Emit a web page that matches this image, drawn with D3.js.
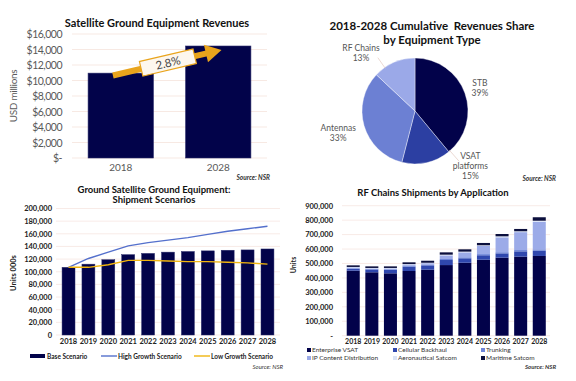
<!DOCTYPE html>
<html lang="en">
<head>
<meta charset="UTF-8">
<title>Satellite Ground Equipment</title>
<script src="https://d3js.org/d3.v7.min.js"></script>
<style>
  body { margin: 0; background: #fff; }
  text { font-family: Lato, "Open Sans", sans-serif; }
</style>
</head>
<body>
<div id="chart"></div>
<script>
// ---- data ----
var revYears = ["2018", "2028"];
var revValues = [10950, 14450];
var cagrLabel = "2.8%";

var pieLabels = ["STB", "VSAT platforms", "Antennas", "RF Chains"];
var pieShares = [39, 15, 33, 13];

var years = ["2018","2019","2020","2021","2022","2023","2024","2025","2026","2027","2028"];
var baseScenario = [107000,112000,119000,127000,129000,131000,132000,133000,134000,134500,136000];
var highScenario = [107000,121000,131000,141000,146000,150000,154000,159000,164000,168000,172000];
var lowScenario  = [107000,107000,111000,118000,118000,117000,116000,116000,115000,114000,112000];

var rfSeries = ["Enterprise VSAT","Cellular Backhaul","Trunking","IP Content Distribution","Aeronautical Satcom","Maritime Satcom"];
var enterpriseVsat = [450000,439000,432000,448000,457000,489000,505000,526000,540000,547000,552000];
var cellularBackhaul = [12000,19000,23000,30000,30000,35000,31000,31000,30000,37000,36000];
var trunking = [5000,4000,5000,6000,6000,7000,7000,8000,8000,9000,10000];
var ipContent = [6000,4000,6000,9000,9000,25000,34000,56000,103000,124000,190000];
var aeroSatcom = [3000,3000,3000,3000,3000,5000,5000,5000,7000,6000,8000];
var maritimeSatcom = [11000,11000,11000,12000,14000,16000,16000,16000,16000,16000,24000];

var navy = "#02034a";
var gridColor = "#f5e3dc";

var svg = d3.select("#chart").append("svg")
    .attr("width", 576)
    .attr("height", 381);

// ---- panel 1: revenues ----
(function() {
    var g = svg.append("g");
    var y = d3.scaleLinear().domain([0, 16000]).range([158, 34]);
    var x = d3.scaleBand().domain(revYears).range([72, 267]).paddingInner(0.33).paddingOuter(0.165);

    g.append("text").attr("x", 157).attr("y", 27).attr("text-anchor", "middle")
        .attr("font-size", 11).attr("font-weight", "bold").attr("fill", "#111")
        .text("Satellite Ground Equipment Revenues");

    var ticks = d3.range(0, 16001, 2000);
    g.selectAll(".grid").data(ticks).enter().append("line")
        .attr("x1", 72).attr("x2", 267)
        .attr("y1", function(d) { return y(d); }).attr("y2", function(d) { return y(d); })
        .attr("stroke", gridColor).attr("stroke-width", 0.8);

    g.selectAll(".tick").data(ticks).enter().append("text")
        .attr("x", 62).attr("y", function(d) { return y(d) + 4; })
        .attr("text-anchor", "end").attr("font-size", 10.5).attr("letter-spacing", -0.5)
        .attr("fill", "#595959")
        .text(function(d) { return d === 0 ? "$-" : "$" + d3.format(",")(d); });

    g.selectAll(".bar").data(revValues).enter().append("rect")
        .attr("x", function(d, i) { return x(revYears[i]); })
        .attr("y", function(d) { return y(d); })
        .attr("width", x.bandwidth())
        .attr("height", function(d) { return y(0) - y(d); })
        .attr("fill", navy).attr("stroke", "#2a2c6a").attr("stroke-width", 0.6);

    g.selectAll(".xl").data(revYears).enter().append("text")
        .attr("x", function(d) { return x(d) + x.bandwidth() / 2; })
        .attr("y", 171).attr("text-anchor", "middle")
        .attr("font-size", 10).attr("fill", "#595959").text(function(d) { return d; });

    g.append("text").attr("transform", "translate(17,96) rotate(-90)")
        .attr("text-anchor", "middle").attr("font-size", 10).attr("letter-spacing", -0.3)
        .attr("fill", "#595959").text("USD millions");

    g.append("text").attr("x", 270).attr("y", 180).attr("text-anchor", "end")
        .attr("font-size", 6.5).attr("font-style", "italic").attr("font-weight", "bold")
        .attr("fill", "#333").text("Source: NSR");

    // growth arrow
    var x0 = x("2018") + x.bandwidth() * 0.38, y0 = y(revValues[0] - 300);
    var x1 = x("2028") + x.bandwidth() * 0.55, y1 = y(revValues[1] - 500);
    var ang = Math.atan2(y1 - y0, x1 - x0);
    var len = Math.hypot(x1 - x0, y1 - y0);
    var arrow = g.append("g").attr("transform", "translate(" + x0 + "," + y0 + ") rotate(" + (ang * 180 / Math.PI) + ")");
    arrow.append("rect").attr("x", 0).attr("y", -3).attr("width", len - 12).attr("height", 6)
        .attr("fill", "#e9a41c");
    arrow.append("path").attr("d", "M" + (len - 16) + ",-9 L" + len + ",0 L" + (len - 16) + ",9 Z")
        .attr("fill", "#e9a41c");
    arrow.append("rect").attr("x", len * 0.26).attr("y", -7.5).attr("width", 55).attr("height", 15)
        .attr("fill", "#fdf7ee").attr("stroke", "#e9a41c").attr("stroke-width", 1.2);
    arrow.append("text").attr("x", len * 0.26 + 27.5).attr("y", 4.5).attr("text-anchor", "middle")
        .attr("font-size", 11.5).attr("fill", "#444").text(cagrLabel);
})();

// ---- panel 2: pie ----
(function() {
    var g = svg.append("g");
    g.append("text").attr("x", 432).attr("y", 30).attr("text-anchor", "middle")
        .attr("font-size", 11.5).attr("font-weight", "bold").attr("fill", "#111")
        .attr("xml:space", "preserve").text("2018-2028 Cumulative  Revenues Share");
    g.append("text").attr("x", 432).attr("y", 44).attr("text-anchor", "middle")
        .attr("font-size", 11.5).attr("font-weight", "bold").attr("fill", "#111")
        .text("by Equipment Type");

    var cx = 415, cy = 111, r = 53;
    var colors = ["#02024a", "#2c3fa2", "#6c80d3", "#9ba9e8"];
    var pie = d3.pie().sort(null).value(function(d) { return d; });
    var arcs = pie(pieShares);
    var arc = d3.arc().innerRadius(0).outerRadius(r);
    var pg = g.append("g").attr("transform", "translate(" + cx + "," + cy + ")");
    pg.selectAll("path").data(arcs).enter().append("path")
        .attr("d", arc)
        .attr("fill", function(d, i) { return colors[i]; })
        .attr("stroke", "#fff").attr("stroke-width", 0.4);

    // label placement: radius and angle shift per slice
    var labelR = [69, 78, 80, 79];
    var labelShift = [0.0, -0.57, 0.0, -0.345];
    var lines = [["STB", "39%"], ["VSAT", "platforms", "15%"], ["Antennas", "33%"], ["RF Chains", "13%"]];
    arcs.forEach(function(a, i) {
        var mid = (a.startAngle + a.endAngle) / 2 + labelShift[i];
        var lx = Math.sin(mid) * labelR[i], ly = -Math.cos(mid) * labelR[i];
        var t = pg.append("text").attr("text-anchor", "middle").attr("font-size", 8.5).attr("fill", "#555");
        var n = lines[i].length;
        lines[i].forEach(function(s, j) {
            t.append("tspan").attr("x", lx).attr("y", ly + (j - (n - 1) / 2) * 10 + 3).text(s);
        });
    });
    // leader lines for VSAT and RF Chains
    var leaders = [[1, -0.5, 14], [3, -0.2, 12]];
    leaders.forEach(function(l) {
        var a = arcs[l[0]];
        var mid = (a.startAngle + a.endAngle) / 2 + l[1];
        var p0 = [Math.sin(mid) * (r - 1), -Math.cos(mid) * (r - 1)];
        var p1 = [Math.sin(mid) * (r + l[2]), -Math.cos(mid) * (r + l[2])];
        pg.append("line").attr("x1", p0[0]).attr("y1", p0[1]).attr("x2", p1[0]).attr("y2", p1[1])
            .attr("stroke", "#e3c9c0").attr("stroke-width", 0.7);
    });

    g.append("text").attr("x", 556).attr("y", 181).attr("text-anchor", "end")
        .attr("font-size", 6.5).attr("font-style", "italic").attr("font-weight", "bold")
        .attr("fill", "#333").text("Source: NSR");
})();

// ---- panel 3: shipment scenarios ----
(function() {
    var g = svg.append("g");
    g.append("text").attr("x", 154).attr("y", 193).attr("text-anchor", "middle")
        .attr("font-size", 9.5).attr("font-weight", "bold").attr("fill", "#111")
        .text("Ground Satellite Ground Equipment:");
    g.append("text").attr("x", 154).attr("y", 203).attr("text-anchor", "middle")
        .attr("font-size", 9.5).attr("font-weight", "bold").attr("fill", "#111")
        .text("Shipment Scenarios");

    var y = d3.scaleLinear().domain([0, 200000]).range([335, 208.5]);
    var x = d3.scaleBand().domain(years).range([55.5, 280.5]).paddingInner(0.35).paddingOuter(0.33);
    var ticks = d3.range(0, 200001, 20000);

    g.selectAll(".grid").data(ticks).enter().append("line")
        .attr("x1", 56).attr("x2", 280)
        .attr("y1", function(d) { return y(d); }).attr("y2", function(d) { return y(d); })
        .attr("stroke", gridColor).attr("stroke-width", 0.7);
    g.selectAll(".tick").data(ticks).enter().append("text")
        .attr("x", 52).attr("y", function(d) { return y(d) + 2.8; })
        .attr("text-anchor", "end").attr("font-size", 7.5).attr("font-weight", "bold").attr("fill", "#222")
        .text(function(d) { return d3.format(",")(d); });

    g.selectAll(".bar").data(baseScenario).enter().append("rect")
        .attr("x", function(d, i) { return x(years[i]); })
        .attr("y", function(d) { return y(d); })
        .attr("width", x.bandwidth())
        .attr("height", function(d) { return y(0) - y(d); })
        .attr("fill", navy).attr("stroke", "#2a2c6a").attr("stroke-width", 0.5);

    var line = d3.line()
        .x(function(d, i) { return x(years[i]) + x.bandwidth() / 2; })
        .y(function(d) { return y(d); });
    g.append("path").attr("d", line(highScenario)).attr("fill", "none")
        .attr("stroke", "#5470cc").attr("stroke-width", 1.4);
    g.append("path").attr("d", line(lowScenario)).attr("fill", "none")
        .attr("stroke", "#f0b50f").attr("stroke-width", 1.4);

    g.selectAll(".xl").data(years).enter().append("text")
        .attr("x", function(d) { return x(d) + x.bandwidth() / 2; })
        .attr("y", 344).attr("text-anchor", "middle")
        .attr("font-size", 7.5).attr("font-weight", "bold").attr("fill", "#222").text(function(d) { return d; });

    g.append("text").attr("transform", "translate(16,273) rotate(-90)")
        .attr("text-anchor", "middle").attr("font-size", 7.5).attr("font-weight", "bold").attr("fill", "#222")
        .text("Units 000s");

    // legend
    var leg = [
        { label: "Base Scenario", x: 30, type: "bar", color: navy },
        { label: "High Growth Scenario", x: 101, type: "line", color: "#5470cc" },
        { label: "Low Growth Scenario", x: 194, type: "line", color: "#f0b50f" }
    ];
    leg.forEach(function(l) {
        if (l.type === "bar") {
            g.append("rect").attr("x", l.x).attr("y", 354).attr("width", 15).attr("height", 4).attr("fill", l.color);
        } else {
            g.append("line").attr("x1", l.x).attr("x2", l.x + 16).attr("y1", 356).attr("y2", 356)
                .attr("stroke", l.color).attr("stroke-width", 1.4);
        }
        g.append("text").attr("x", l.x + 17).attr("y", 358.5).attr("font-size", 6.5)
            .attr("font-weight", "bold").attr("fill", "#222").text(l.label);
    });

    g.append("text").attr("x", 283).attr("y", 369).attr("text-anchor", "end")
        .attr("font-size", 6).attr("font-style", "italic").attr("fill", "#333").text("Source: NSR");
})();

// ---- panel 4: RF chains stacked ----
(function() {
    var g = svg.append("g");
    g.append("text").attr("x", 433).attr("y", 196).attr("text-anchor", "middle")
        .attr("font-size", 9.5).attr("font-weight", "bold").attr("fill", "#111")
        .text("RF Chains Shipments by Application");

    var y = d3.scaleLinear().domain([0, 900000]).range([335.7, 205.7]);
    var x = d3.scaleBand().domain(years).range([343, 549.5]).paddingInner(0.3).paddingOuter(0.2);
    var ticks = d3.range(0, 900001, 100000);

    g.selectAll(".grid").data(ticks).enter().append("line")
        .attr("x1", 342).attr("x2", 550)
        .attr("y1", function(d) { return y(d); }).attr("y2", function(d) { return y(d); })
        .attr("stroke", gridColor).attr("stroke-width", 0.7);
    g.selectAll(".tick").data(ticks).enter().append("text")
        .attr("x", 333).attr("y", function(d) { return y(d) + 2.8; })
        .attr("text-anchor", "end").attr("font-size", 7.5).attr("font-weight", "bold").attr("fill", "#222")
        .text(function(d) { return d === 0 ? "-" : d3.format(",")(d); });

    var seriesData = [enterpriseVsat, cellularBackhaul, trunking, ipContent, aeroSatcom, maritimeSatcom];
    var colors = ["#02024a", "#2f47ae", "#6d85d9", "#9cabe8", "#dbe4f6", "#0b0f3d"];
    var table = years.map(function(yr, i) {
        var row = { year: yr };
        rfSeries.forEach(function(s, k) { row[s] = seriesData[k][i]; });
        return row;
    });
    var stack = d3.stack().keys(rfSeries)(table);

    g.selectAll(".layer").data(stack).enter().append("g")
        .attr("fill", function(d, k) { return colors[k]; })
        .selectAll("rect").data(function(d) { return d; }).enter().append("rect")
        .attr("x", function(d) { return x(d.data.year); })
        .attr("y", function(d) { return y(d[1]); })
        .attr("width", x.bandwidth())
        .attr("height", function(d) { return y(d[0]) - y(d[1]); });

    g.selectAll(".xl").data(years).enter().append("text")
        .attr("x", function(d) { return x(d) + x.bandwidth() / 2; })
        .attr("y", 344).attr("text-anchor", "middle")
        .attr("font-size", 7).attr("font-weight", "bold").attr("fill", "#222").text(function(d) { return d; });

    g.append("text").attr("transform", "translate(296,265) rotate(-90)")
        .attr("text-anchor", "middle").attr("font-size", 7).attr("font-weight", "bold").attr("fill", "#222")
        .text("Units");

    var legX = [307, 393, 481];
    rfSeries.forEach(function(s, k) {
        var lx = legX[k % 3], ly = k < 3 ? 352 : 360;
        g.append("rect").attr("x", lx).attr("y", ly - 4).attr("width", 4).attr("height", 4).attr("fill", colors[k]);
        g.append("text").attr("x", lx + 5).attr("y", ly).attr("font-size", 6.5).attr("fill", "#333").text(s);
    });

    g.append("text").attr("x", 556).attr("y", 369).attr("text-anchor", "end")
        .attr("font-size", 6).attr("font-style", "italic").attr("font-weight", "bold")
        .attr("fill", "#333").text("Source: NSR");
})();
</script>
</body>
</html>
